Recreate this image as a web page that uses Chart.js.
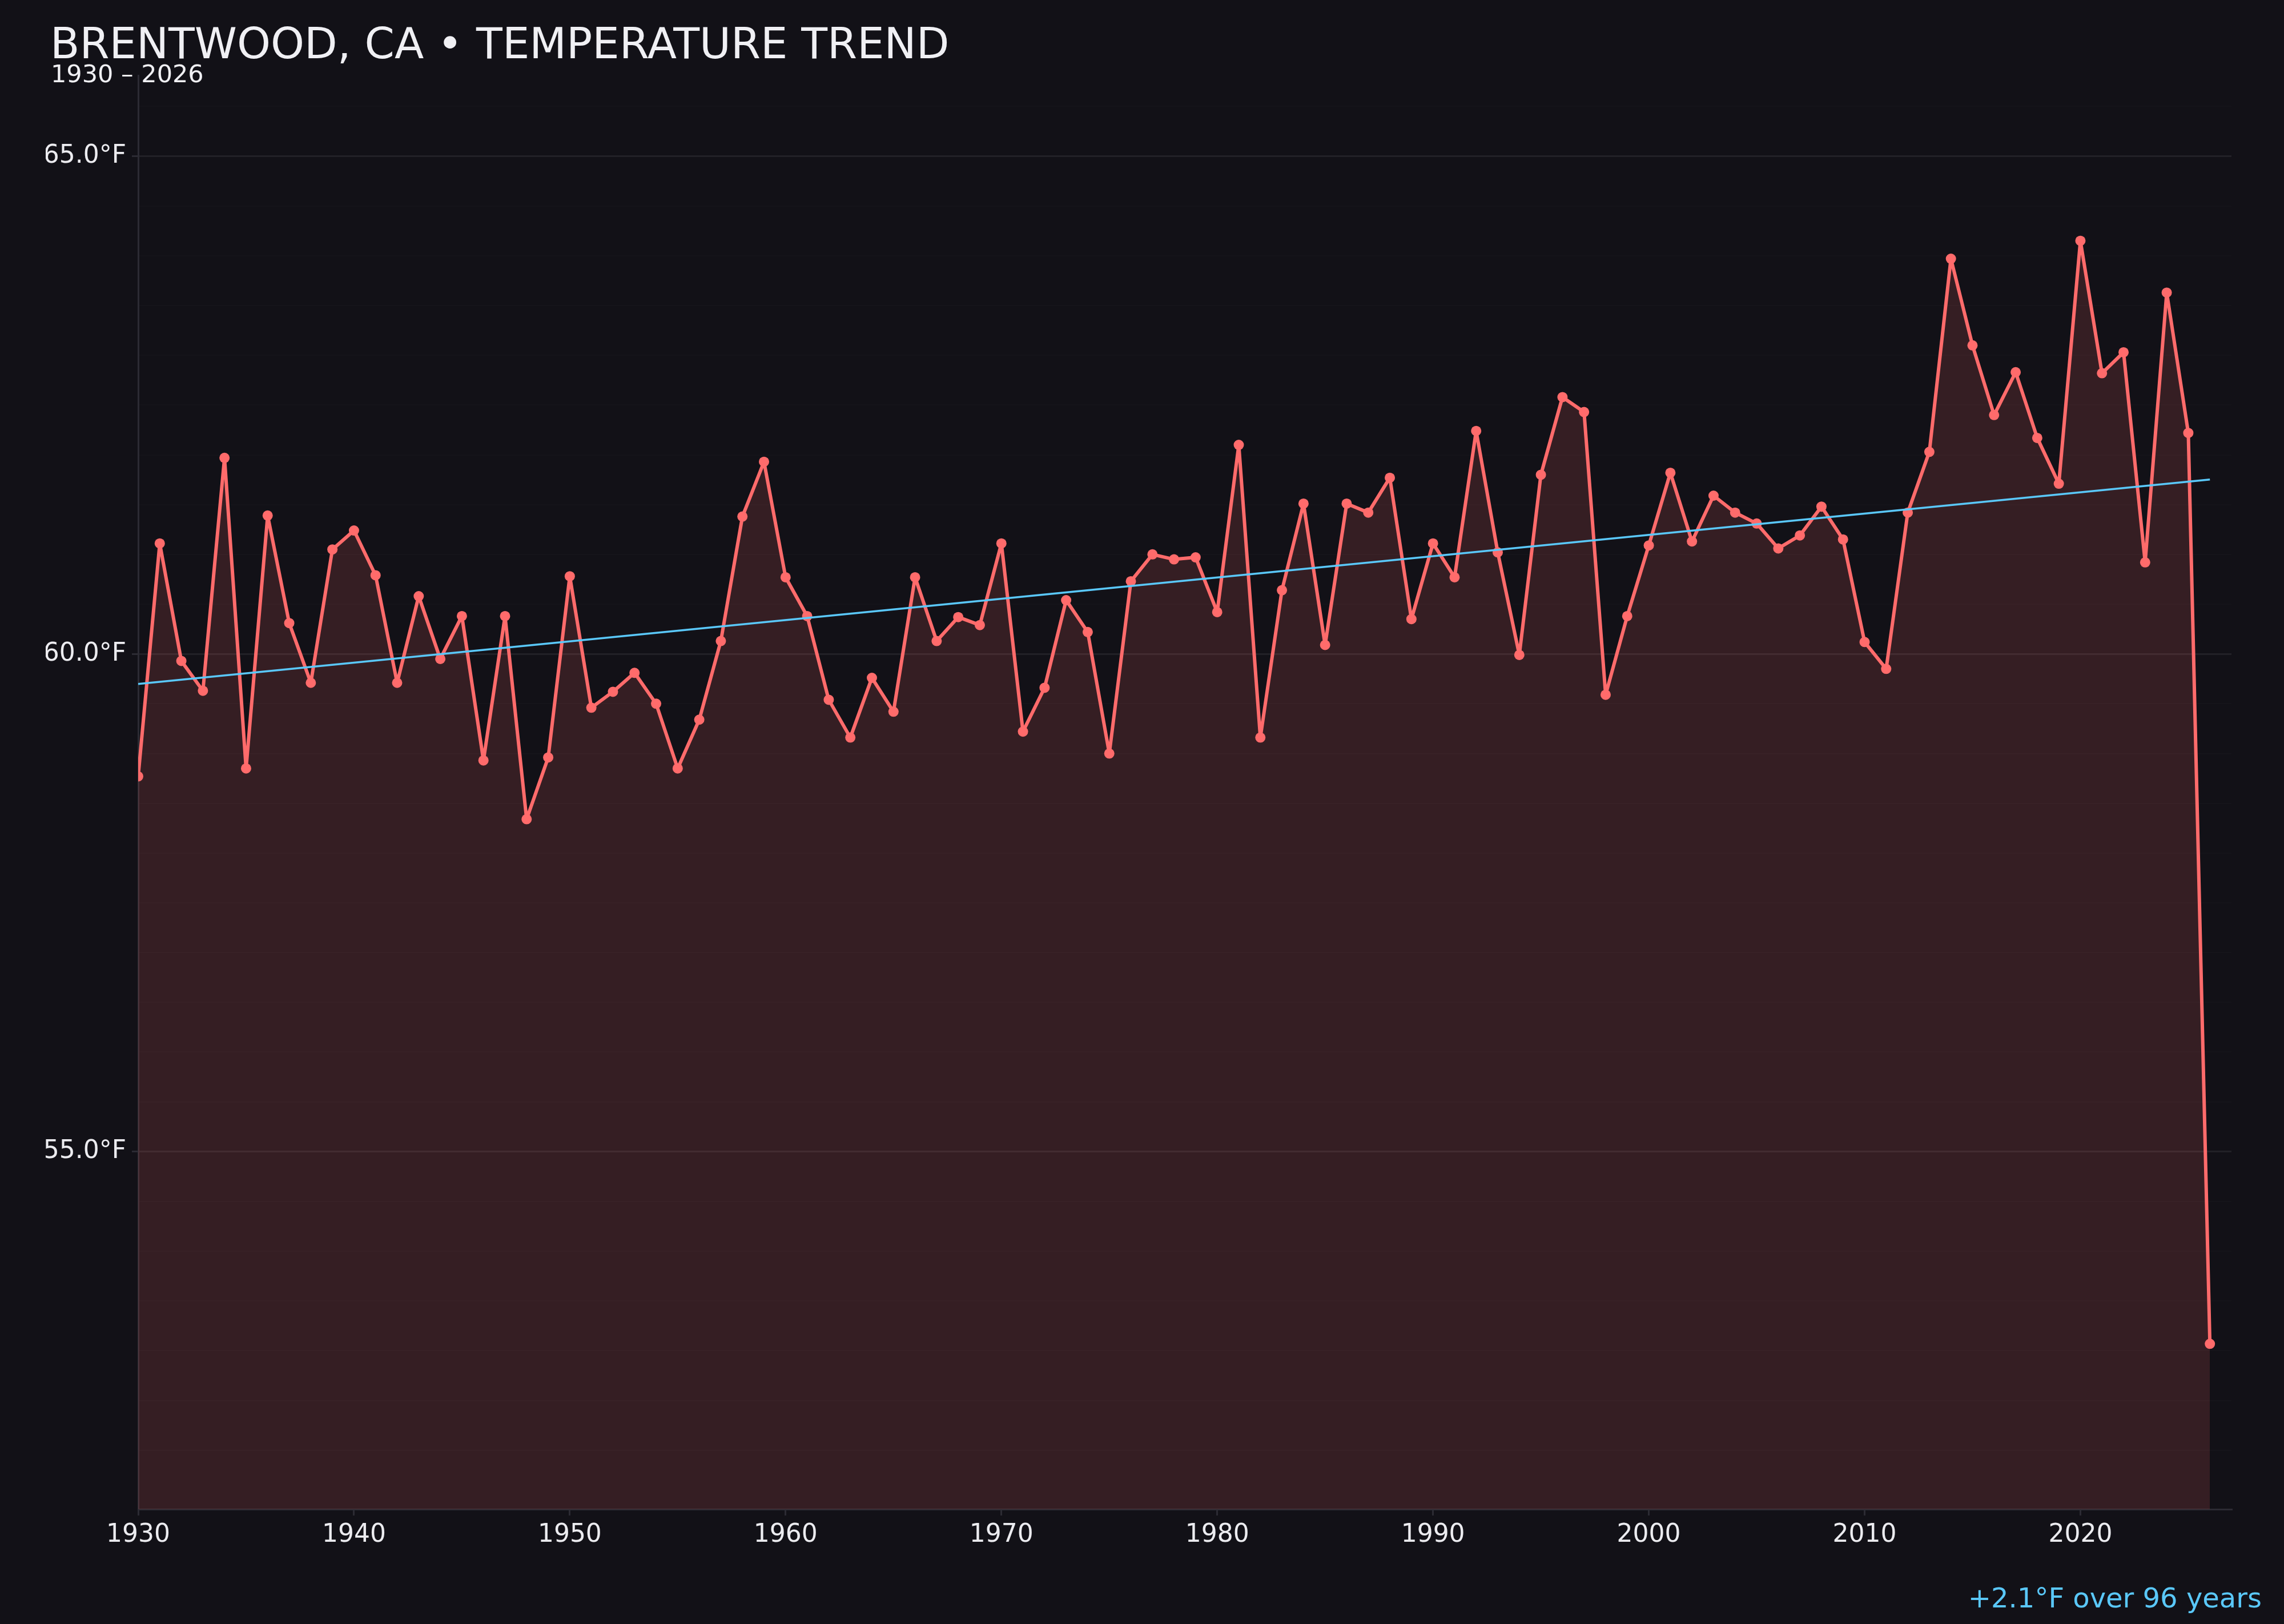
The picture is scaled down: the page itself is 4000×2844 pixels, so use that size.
<!DOCTYPE html>
<html>
<head>
<meta charset="utf-8">
<title>Brentwood, CA temperature trend</title>
<script src="https://cdn.jsdelivr.net/npm/chart.js@4.4.0/dist/chart.umd.min.js"></script>
<style>
  html, body { margin: 0; padding: 0; background: #121117; }
  #wrap { position: relative; width: 4000px; height: 2844px; }
</style>
</head>
<body>
<div id="wrap"><canvas id="temp-trend"></canvas></div>
<script>
// annual mean temperature
var years = [
  1930, 1931, 1932, 1933, 1934, 1935, 1936, 1937, 1938, 1939,
  1940, 1941, 1942, 1943, 1944, 1945, 1946, 1947, 1948, 1949,
  1950, 1951, 1952, 1953, 1954, 1955, 1956, 1957, 1958, 1959,
  1960, 1961, 1962, 1963, 1964, 1965, 1966, 1967, 1968, 1969,
  1970, 1971, 1972, 1973, 1974, 1975, 1976, 1977, 1978, 1979,
  1980, 1981, 1982, 1983, 1984, 1985, 1986, 1987, 1988, 1989,
  1990, 1991, 1992, 1993, 1994, 1995, 1996, 1997, 1998, 1999,
  2000, 2001, 2002, 2003, 2004, 2005, 2006, 2007, 2008, 2009,
  2010, 2011, 2012, 2013, 2014, 2015, 2016, 2017, 2018, 2019,
  2020, 2021, 2022, 2023, 2024, 2025, 2026
];
var temps = [
  58.77, 61.11, 59.93, 59.63, 61.97, 58.85, 61.39, 60.31, 59.71, 61.05,
  61.24, 60.79, 59.71, 60.58, 59.95, 60.38, 58.93, 60.38, 58.34, 58.96,
  60.78, 59.46, 59.62, 59.81, 59.50, 58.85, 59.34, 60.13, 61.38, 61.93,
  60.77, 60.38, 59.54, 59.16, 59.76, 59.42, 60.77, 60.13, 60.37, 60.29,
  61.11, 59.22, 59.66, 60.54, 60.22, 59.00, 60.73, 61.00, 60.95, 60.97,
  60.42, 62.10, 59.16, 60.64, 61.51, 60.09, 61.51, 61.42, 61.77, 60.35,
  61.11, 60.77, 62.24, 61.02, 59.99, 61.80, 62.58, 62.43, 59.59, 60.38,
  61.09, 61.82, 61.13, 61.59, 61.42, 61.31, 61.06, 61.19, 61.48, 61.15,
  60.12, 59.85, 61.42, 62.03, 63.97, 63.10, 62.40, 62.83, 62.17, 61.71,
  64.15, 62.82, 63.03, 60.92, 63.63, 62.22, 53.07
];
var xTicks = [1930, 1940, 1950, 1960, 1970, 1980, 1990, 2000, 2010, 2020];
var yLabelTicks = [55, 60, 65];

var chartTitle = 'BRENTWOOD, CA • TEMPERATURE TREND';
var chartSubtitle = '1930 – 2026';
var trendNote = '+2.1°F over 96 years';

var FONT = '"DejaVu Sans", "Noto Sans", sans-serif';

function init(){
  createTrendChart();
}

// least squares fit through the yearly values
function linearFit(xs, ys){
  var n = xs.length, sx = 0, sy = 0, sxx = 0, sxy = 0;
  for (var i = 0; i < n; i++) {
    sx += xs[i]; sy += ys[i];
    sxx += xs[i] * xs[i]; sxy += xs[i] * ys[i];
  }
  var slope = (n * sxy - sx * sy) / (n * sxx - sx * sx);
  var icpt = (sy - slope * sx) / n;
  return function(x){ return icpt + slope * x; };
}

function isLabelTick(v){
  for (var i = 0; i < yLabelTicks.length; i++) {
    if (Math.abs(v - yLabelTicks[i]) < 1e-6) return true;
  }
  return false;
}

var textPlugin = {
  id: 'textPlugin',
  afterDraw: function(chart){
    var ctx = chart.ctx;
    ctx.save();
    ctx.textBaseline = 'alphabetic';
    ctx.fillStyle = '#f0f0f4';
    ctx.textAlign = 'left';
    ctx.font = '75px ' + FONT;
    ctx.fillText(chartTitle, 88, 102);
    ctx.font = '43px ' + FONT;
    ctx.fillText(chartSubtitle, 89, 144);
    ctx.fillStyle = '#5ac8fa';
    ctx.textAlign = 'right';
    ctx.font = '48px ' + FONT;
    ctx.fillText(trendNote, 3961, 2815);
    ctx.restore();
  }
};

function createTrendChart(){
  var element = document.getElementById('temp-trend').getContext('2d');

  var points = years.map(function(y, i){ return { x: y, y: temps[i] }; });
  var fit = linearFit(years, temps);
  var first = years[0], last = years[years.length - 1];
  var trend = [{ x: first, y: fit(first) }, { x: last, y: fit(last) }];

  var lo = Math.min.apply(null, temps), hi = Math.max.apply(null, temps);
  var pad = (hi - lo) * 0.15;

  var chart = new Chart(element, {
    type: 'line',
    data: {
      datasets: [{
        label: 'Trend',
        data: trend,
        borderColor: '#5ac8fa',
        borderWidth: 3.5,
        pointRadius: 0,
        fill: false,
        order: 0
      }, {
        label: 'Annual mean',
        data: points,
        borderColor: '#ff6b6b',
        backgroundColor: 'rgba(255, 107, 107, 0.15)',
        borderWidth: 6,
        borderJoinStyle: 'round',
        pointRadius: 9,
        pointBorderWidth: 0,
        pointBackgroundColor: '#ff6b6b',
        fill: 'start',
        tension: 0,
        order: 1
      }]
    },
    options: {
      responsive: true,
      maintainAspectRatio: false,
      devicePixelRatio: 1,
      animation: false,
      layout: { padding: { left: 80, right: 92, top: 132, bottom: 121 } },
      plugins: {
        legend: { display: false },
        tooltip: { enabled: false }
      },
      scales: {
        x: {
          type: 'linear',
          min: 1930,
          max: 2027,
          afterBuildTicks: function(scale){
            scale.ticks = xTicks.map(function(v){ return { value: v }; });
          },
          afterFit: function(scale){ scale.height = 80; },
          ticks: {
            color: '#ececf0',
            font: { family: FONT, size: 44 },
            padding: 8,
            maxRotation: 0,
            callback: function(v){ return String(v); }
          },
          grid: { drawOnChartArea: false, tickLength: 11, color: '#2c2b33', lineWidth: 3 },
          border: { color: '#2c2b33', width: 3 }
        },
        y: {
          min: lo - pad,
          max: hi + pad,
          ticks: {
            stepSize: 0.5,
            color: '#ececf0',
            font: { family: FONT, size: 44 },
            padding: 10,
            autoSkip: false,
            callback: function(v){ return isLabelTick(v) ? v.toFixed(1) + '°F' : ''; }
          },
          afterBuildTicks: function(scale){
            scale.ticks = scale.ticks.filter(function(t){
              return Math.abs(t.value * 2 - Math.round(t.value * 2)) < 1e-6;
            });
          },
          afterFit: function(scale){ scale.width = 162; },
          grid: {
            tickLength: 11,
            lineWidth: function(c){ return c.tick && isLabelTick(c.tick.value) ? 3 : 2; },
            color: function(c){
              return c.tick && isLabelTick(c.tick.value) ? 'rgba(255,255,255,0.07)' : 'rgba(255,255,255,0.016)';
            },
            tickColor: function(c){
              return c.tick && isLabelTick(c.tick.value) ? '#2c2b33' : 'rgba(0,0,0,0)';
            }
          },
          border: { color: '#2c2b33', width: 3 }
        }
      }
    },
    plugins: [textPlugin]
  });
}

init();
</script>
</body>
</html>
